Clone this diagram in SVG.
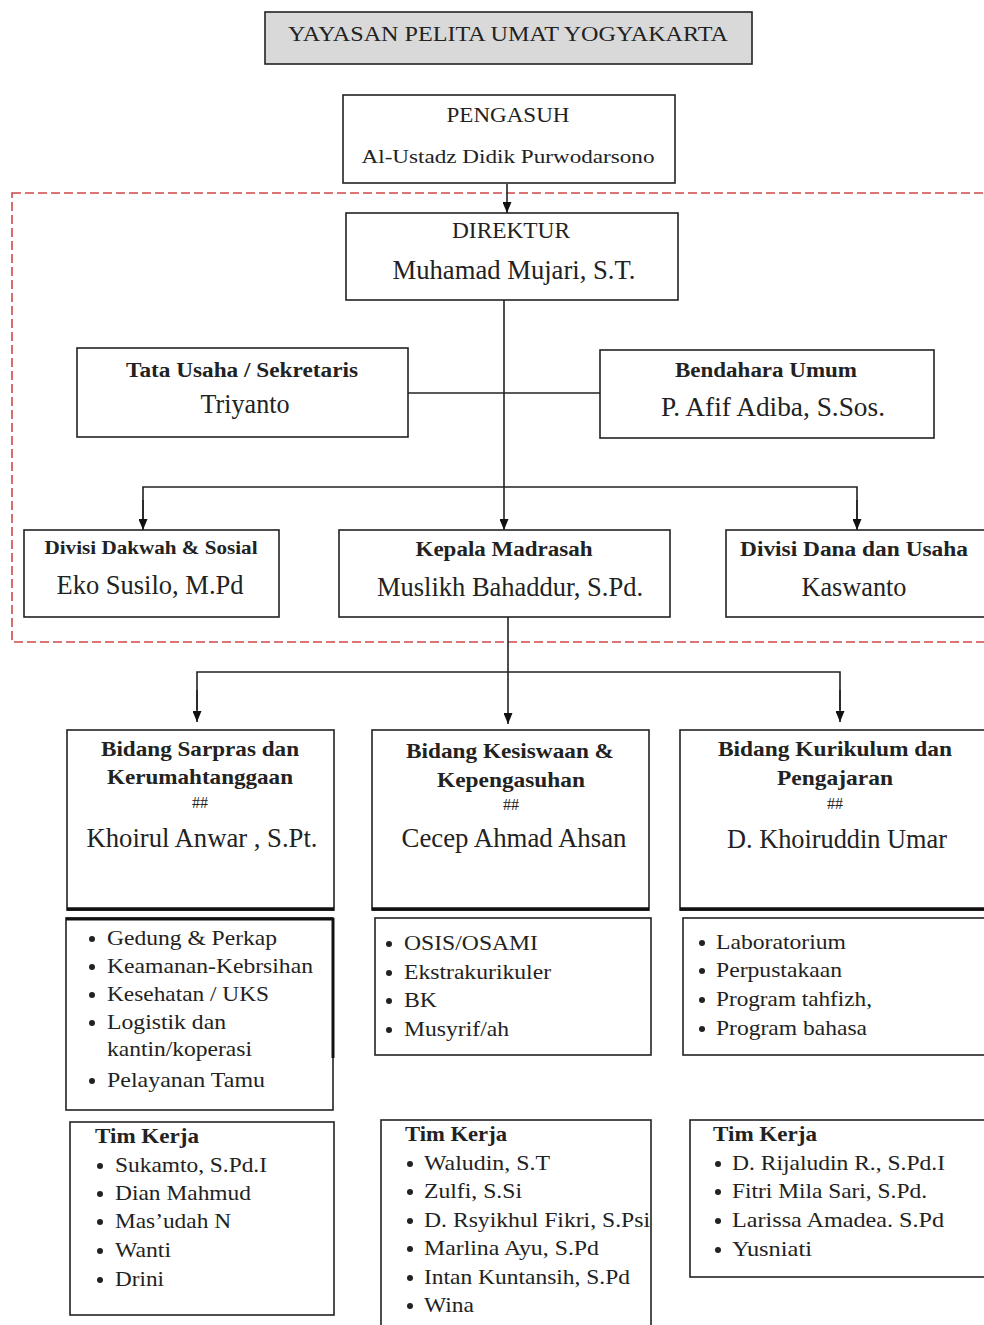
<svg xmlns="http://www.w3.org/2000/svg" width="984" height="1325" viewBox="0 0 984 1325">
<defs>
<marker id="arr" markerUnits="userSpaceOnUse" markerWidth="11" markerHeight="9" refX="11" refY="4.5" orient="auto" viewBox="0 0 11 9">
<path d="M0,0 L11,4.5 L0,9 z" fill="#111"/>
</marker>
<style>
.box{fill:#fff;stroke:#222;stroke-width:1.6}
.t{font-family:"Liberation Serif","Times New Roman",serif;fill:#222}
.c{text-anchor:middle}
.b{font-weight:bold}
.ln{stroke:#222;stroke-width:1.6;fill:none}
.ar{stroke:#222;stroke-width:1.6;fill:none}
.dot{fill:#222}
.nm{font-size:28px}
</style>
</defs>
<rect width="984" height="1325" fill="#fff"/>

<rect x="12" y="193" width="990" height="449" fill="none" stroke="#d04848" stroke-width="1.6" stroke-dasharray="9,4"/>

<g id="connectors">
<line class="ar" x1="507" y1="184" x2="507" y2="213" marker-end="url(#arr)"/>
<line class="ar" x1="504" y1="300" x2="504" y2="530" marker-end="url(#arr)"/>
<line class="ln" x1="408" y1="393" x2="600" y2="393"/>
<polyline class="ln" points="143,520 143,487 857,487 857,520"/>
<line class="ar" x1="143" y1="500" x2="143" y2="530" marker-end="url(#arr)"/>
<line class="ar" x1="857" y1="500" x2="857" y2="530" marker-end="url(#arr)"/>
<line class="ar" x1="508" y1="617" x2="508" y2="724" marker-end="url(#arr)"/>
<polyline class="ln" points="197,710 197,672 840,672 840,710"/>
<line class="ar" x1="197" y1="690" x2="197" y2="722" marker-end="url(#arr)"/>
<line class="ar" x1="840" y1="690" x2="840" y2="722" marker-end="url(#arr)"/>
</g>

<g id="yayasan">
<rect x="265" y="12" width="487" height="52" fill="#d9d9d9" stroke="#222" stroke-width="1.6"/>
<text class="t c" x="508" y="41" font-size="22" textLength="440" lengthAdjust="spacingAndGlyphs">YAYASAN PELITA UMAT YOGYAKARTA</text>
</g>

<g id="pengasuh">
<rect class="box" x="343" y="95" width="332" height="88"/>
<text class="t c" x="508" y="122" font-size="21" textLength="123" lengthAdjust="spacingAndGlyphs">PENGASUH</text>
<text class="t c" x="508" y="163" font-size="19" textLength="293" lengthAdjust="spacingAndGlyphs">Al-Ustadz Didik Purwodarsono</text>
</g>

<g id="direktur">
<rect class="box" x="346" y="213" width="332" height="87"/>
<text class="t c" x="511" y="238" font-size="23" textLength="118" lengthAdjust="spacingAndGlyphs">DIREKTUR</text>
<text class="t c nm" x="514" y="279" textLength="243" lengthAdjust="spacingAndGlyphs">Muhamad Mujari, S.T.</text>
</g>

<g id="tatausaha">
<rect class="box" x="77" y="348" width="331" height="89"/>
<text class="t c b" x="242" y="377" font-size="20" textLength="232" lengthAdjust="spacingAndGlyphs">Tata Usaha / Sekretaris</text>
<text class="t c nm" x="245" y="413" textLength="89" lengthAdjust="spacingAndGlyphs">Triyanto</text>
</g>

<g id="bendahara">
<rect class="box" x="600" y="350" width="334" height="88"/>
<text class="t c b" x="766" y="377" font-size="20" textLength="182" lengthAdjust="spacingAndGlyphs">Bendahara Umum</text>
<text class="t c nm" x="773" y="416" textLength="224" lengthAdjust="spacingAndGlyphs">P. Afif Adiba, S.Sos.</text>
</g>

<g id="dakwah">
<rect class="box" x="24" y="530" width="255" height="87"/>
<text class="t c b" x="151" y="554" font-size="19" textLength="213" lengthAdjust="spacingAndGlyphs">Divisi Dakwah &amp; Sosial</text>
<text class="t c nm" x="150" y="594" textLength="187" lengthAdjust="spacingAndGlyphs">Eko Susilo, M.Pd</text>
</g>

<g id="kepala">
<rect class="box" x="339" y="530" width="331" height="87"/>
<text class="t c b" x="504" y="556" font-size="20" textLength="177" lengthAdjust="spacingAndGlyphs">Kepala Madrasah</text>
<text class="t c nm" x="510" y="596" textLength="266" lengthAdjust="spacingAndGlyphs">Muslikh Bahaddur, S.Pd.</text>
</g>

<g id="dana">
<rect class="box" x="726" y="530" width="262" height="87"/>
<text class="t c b" x="854" y="556" font-size="20" textLength="228" lengthAdjust="spacingAndGlyphs">Divisi Dana dan Usaha</text>
<text class="t c nm" x="854" y="596" textLength="105" lengthAdjust="spacingAndGlyphs">Kaswanto</text>
</g>

<g id="sarpras">
<rect class="box" x="67" y="730" width="267" height="180"/>
<line x1="67" y1="909" x2="334" y2="909" stroke="#111" stroke-width="3.5"/>
<text class="t c b" x="200" y="756" font-size="22" textLength="198" lengthAdjust="spacingAndGlyphs">Bidang Sarpras dan</text>
<text class="t c b" x="200" y="784" font-size="22" textLength="186" lengthAdjust="spacingAndGlyphs">Kerumahtanggaan</text>
<text class="t c" x="200" y="808" font-size="16">##</text>
<text class="t c nm" x="202" y="847" textLength="231" lengthAdjust="spacingAndGlyphs">Khoirul Anwar , S.Pt.</text>
</g>

<g id="kesiswaan">
<rect class="box" x="372" y="730" width="277" height="180"/>
<line x1="372" y1="909" x2="649" y2="909" stroke="#111" stroke-width="3.5"/>
<text class="t c b" x="510" y="758" font-size="22" textLength="208" lengthAdjust="spacingAndGlyphs">Bidang Kesiswaan &amp;</text>
<text class="t c b" x="511" y="787" font-size="22" textLength="148" lengthAdjust="spacingAndGlyphs">Kepengasuhan</text>
<text class="t c" x="511" y="810" font-size="16">##</text>
<text class="t c nm" x="514" y="847" textLength="225" lengthAdjust="spacingAndGlyphs">Cecep Ahmad Ahsan</text>
</g>

<g id="kurikulum">
<rect class="box" x="680" y="730" width="310" height="180"/>
<line x1="680" y1="909" x2="984" y2="909" stroke="#111" stroke-width="3.5"/>
<text class="t c b" x="835" y="756" font-size="22" textLength="234" lengthAdjust="spacingAndGlyphs">Bidang Kurikulum dan</text>
<text class="t c b" x="835" y="785" font-size="22" textLength="116" lengthAdjust="spacingAndGlyphs">Pengajaran</text>
<text class="t c" x="835" y="809" font-size="16">##</text>
<text class="t c nm" x="837" y="848" textLength="220" lengthAdjust="spacingAndGlyphs">D. Khoiruddin Umar</text>
</g>

<g id="sarpras-list">
<rect class="box" x="66" y="918" width="267" height="192"/>
<line x1="66" y1="919" x2="333" y2="919" stroke="#111" stroke-width="3"/>
<line x1="333" y1="918" x2="333" y2="1058" stroke="#111" stroke-width="3"/>
<g class="dot">
<circle cx="92" cy="939" r="3"/><circle cx="92" cy="967" r="3"/><circle cx="92" cy="995" r="3"/><circle cx="92" cy="1023" r="3"/><circle cx="92" cy="1081" r="3"/>
</g>
<g class="t" font-size="21">
<text x="107" y="945" textLength="170" lengthAdjust="spacingAndGlyphs">Gedung &amp; Perkap</text>
<text x="107" y="973" textLength="206" lengthAdjust="spacingAndGlyphs">Keamanan-Kebrsihan</text>
<text x="107" y="1001" textLength="162" lengthAdjust="spacingAndGlyphs">Kesehatan / UKS</text>
<text x="107" y="1029" textLength="119" lengthAdjust="spacingAndGlyphs">Logistik dan</text>
<text x="107" y="1056" textLength="145" lengthAdjust="spacingAndGlyphs">kantin/koperasi</text>
<text x="107" y="1087" textLength="158" lengthAdjust="spacingAndGlyphs">Pelayanan Tamu</text>
</g>
</g>

<g id="kesiswaan-list">
<rect class="box" x="375" y="918" width="276" height="137"/>
<g class="dot">
<circle cx="389" cy="944" r="3"/><circle cx="389" cy="973" r="3"/><circle cx="389" cy="1001" r="3"/><circle cx="389" cy="1030" r="3"/>
</g>
<g class="t" font-size="21">
<text x="404" y="950" textLength="134" lengthAdjust="spacingAndGlyphs">OSIS/OSAMI</text>
<text x="404" y="979" textLength="147" lengthAdjust="spacingAndGlyphs">Ekstrakurikuler</text>
<text x="404" y="1007" textLength="33" lengthAdjust="spacingAndGlyphs">BK</text>
<text x="404" y="1036" textLength="105" lengthAdjust="spacingAndGlyphs">Musyrif/ah</text>
</g>
</g>

<g id="kurikulum-list">
<rect class="box" x="683" y="918" width="307" height="137"/>
<g class="dot">
<circle cx="702" cy="943" r="3"/><circle cx="702" cy="971" r="3"/><circle cx="702" cy="1000" r="3"/><circle cx="702" cy="1029" r="3"/>
</g>
<g class="t" font-size="21">
<text x="716" y="949" textLength="130" lengthAdjust="spacingAndGlyphs">Laboratorium</text>
<text x="716" y="977" textLength="126" lengthAdjust="spacingAndGlyphs">Perpustakaan</text>
<text x="716" y="1006" textLength="156" lengthAdjust="spacingAndGlyphs">Program tahfizh,</text>
<text x="716" y="1035" textLength="151" lengthAdjust="spacingAndGlyphs">Program bahasa</text>
</g>
</g>

<g id="tim-sarpras">
<rect class="box" x="70" y="1122" width="264" height="193"/>
<g class="dot">
<circle cx="100" cy="1166" r="3"/><circle cx="100" cy="1194" r="3"/><circle cx="100" cy="1222" r="3"/><circle cx="100" cy="1251" r="3"/><circle cx="100" cy="1280" r="3"/>
</g>
<g class="t" font-size="21">
<text class="b" x="95" y="1143" textLength="104" lengthAdjust="spacingAndGlyphs">Tim Kerja</text>
<text x="115" y="1172" textLength="152" lengthAdjust="spacingAndGlyphs">Sukamto, S.Pd.I</text>
<text x="115" y="1200" textLength="136" lengthAdjust="spacingAndGlyphs">Dian Mahmud</text>
<text x="115" y="1228" textLength="116" lengthAdjust="spacingAndGlyphs">Mas’udah N</text>
<text x="115" y="1257" textLength="56" lengthAdjust="spacingAndGlyphs">Wanti</text>
<text x="115" y="1286" textLength="49" lengthAdjust="spacingAndGlyphs">Drini</text>
</g>
</g>

<g id="tim-kesiswaan">
<rect class="box" x="381" y="1120" width="270" height="215"/>
<g class="dot">
<circle cx="410" cy="1164" r="3"/><circle cx="410" cy="1192" r="3"/><circle cx="410" cy="1221" r="3"/><circle cx="410" cy="1249" r="3"/><circle cx="410" cy="1278" r="3"/><circle cx="410" cy="1306" r="3"/>
</g>
<g class="t" font-size="21">
<text class="b" x="405" y="1141" textLength="102" lengthAdjust="spacingAndGlyphs">Tim Kerja</text>
<text x="424" y="1170" textLength="126" lengthAdjust="spacingAndGlyphs">Waludin, S.T</text>
<text x="424" y="1198" textLength="98" lengthAdjust="spacingAndGlyphs">Zulfi, S.Si</text>
<text x="424" y="1227" textLength="226" lengthAdjust="spacingAndGlyphs">D. Rsyikhul Fikri, S.Psi</text>
<text x="424" y="1255" textLength="175" lengthAdjust="spacingAndGlyphs">Marlina Ayu, S.Pd</text>
<text x="424" y="1284" textLength="206" lengthAdjust="spacingAndGlyphs">Intan Kuntansih, S.Pd</text>
<text x="424" y="1312" textLength="50" lengthAdjust="spacingAndGlyphs">Wina</text>
</g>
</g>

<g id="tim-kurikulum">
<rect class="box" x="690" y="1120" width="300" height="157"/>
<g class="dot">
<circle cx="718" cy="1164" r="3"/><circle cx="718" cy="1192" r="3"/><circle cx="718" cy="1221" r="3"/><circle cx="718" cy="1250" r="3"/>
</g>
<g class="t" font-size="21">
<text class="b" x="713" y="1141" textLength="104" lengthAdjust="spacingAndGlyphs">Tim Kerja</text>
<text x="732" y="1170" textLength="213" lengthAdjust="spacingAndGlyphs">D. Rijaludin R., S.Pd.I</text>
<text x="732" y="1198" textLength="195" lengthAdjust="spacingAndGlyphs">Fitri Mila Sari, S.Pd.</text>
<text x="732" y="1227" textLength="212" lengthAdjust="spacingAndGlyphs">Larissa Amadea. S.Pd</text>
<text x="732" y="1256" textLength="80" lengthAdjust="spacingAndGlyphs">Yusniati</text>
</g>
</g>
</svg>
